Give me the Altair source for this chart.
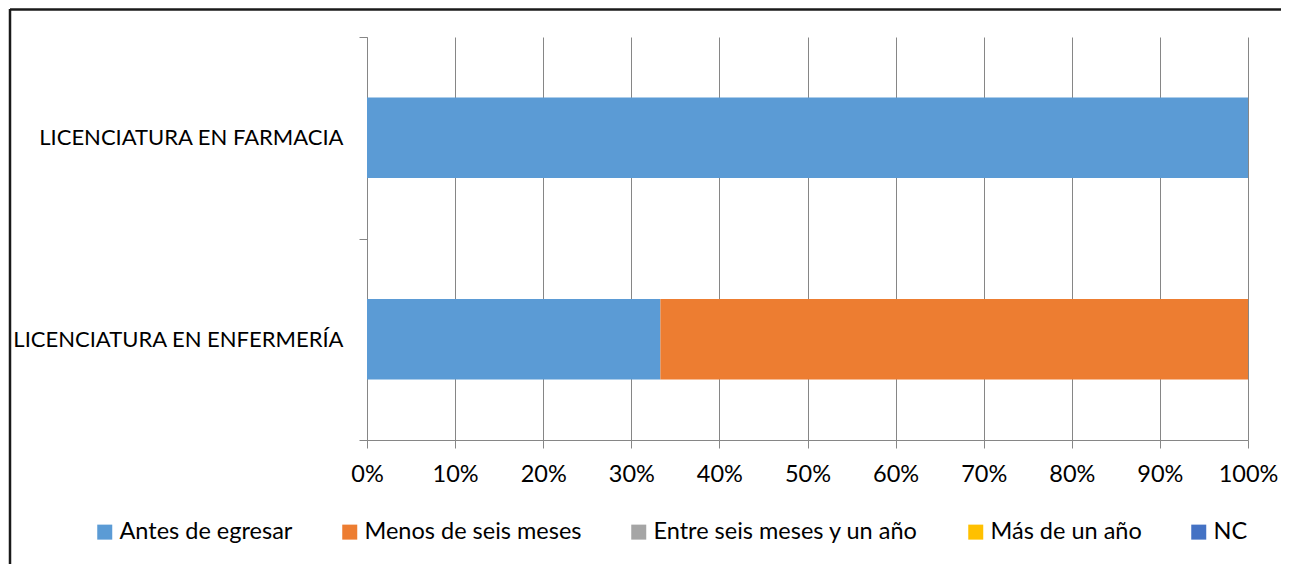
import altair as alt
import pandas as pd

categories = ["LICENCIATURA EN FARMACIA", "LICENCIATURA EN ENFERMERÍA"]
series = ["Antes de egresar", "Menos de seis meses", "Entre seis meses y un año", "Más de un año", "NC"]
colors = ["#5B9BD5", "#ED7D31", "#A5A5A5", "#FFC000", "#4472C4"]

antes = [100, 33.3]
menos = [0, 66.7]
entre = [0, 0]
mas = [0, 0]
nc = [0, 0]

x_ticks = [0, 0.1, 0.2, 0.3, 0.4, 0.5, 0.6, 0.7, 0.8, 0.9, 1.0]

rows = []
for s_i, (s, vals) in enumerate(zip(series, [antes, menos, entre, mas, nc])):
    for c, v in zip(categories, vals):
        rows.append({"category": c, "series": s, "value": v, "order": s_i})
df = pd.DataFrame(rows)

FONT = "Lato"
FS = 23.5
GRAY = "#868686"

bars = alt.Chart(df).mark_bar(height={"band": 0.4}).encode(
    x=alt.X(
        "value:Q",
        stack="normalize",
        scale=alt.Scale(domain=[0, 1], nice=False),
        axis=alt.Axis(
            title=None, format="%", values=x_ticks, grid=True, gridColor=GRAY,
            gridWidth=1, domainColor=GRAY, tickColor=GRAY, tickSize=8,
            labelFontSize=FS, labelColor="#000000", labelFont=FONT,
            labelPadding=14, labelFlush=False, labelLimit=0,
        ),
    ),
    y=alt.Y(
        "category:N",
        sort=categories,
        scale=alt.Scale(paddingInner=0, paddingOuter=0),
        axis=alt.Axis(
            title=None, tickBand="extent", tickSize=8, tickColor=GRAY,
            domainColor=GRAY, labelFontSize=22, labelColor="#000000",
            labelFont=FONT, labelPadding=16, grid=False, labelLimit=0,
        ),
    ),
    color=alt.Color(
        "series:N",
        scale=alt.Scale(domain=series, range=colors),
        legend=alt.Legend(
            title=None, orient="none", direction="horizontal", columns=5,
            legendX=-274, legendY=483, symbolType="square", symbolSize=225,
            symbolStrokeWidth=0, symbolOpacity=1, labelFontSize=FS,
            labelFont=FONT, labelColor="#000000", labelOffset=3,
            columnPadding=45, padding=0, labelLimit=0,
        ),
    ),
    order=alt.Order("order:Q", sort="ascending"),
)

frame_df = pd.DataFrame({"k": [0]})
top_line = alt.Chart(frame_df).mark_rule(color="#1a1a1a", strokeWidth=2.5).encode(
    x=alt.value(-357), x2=alt.value(930), y=alt.value(-27.5)
)
left_line = alt.Chart(frame_df).mark_rule(color="#1a1a1a", strokeWidth=2.5).encode(
    x=alt.value(-357), y=alt.value(-28), y2=alt.value(540)
)

chart = alt.layer(bars, top_line, left_line).properties(
    width=881,
    height=403,
    autosize="none",
    padding={"left": 359, "top": 29, "right": 33, "bottom": 124},
).configure_view(stroke=None)

chart.save("out.html", embed_options={"renderer": "svg", "actions": False})
